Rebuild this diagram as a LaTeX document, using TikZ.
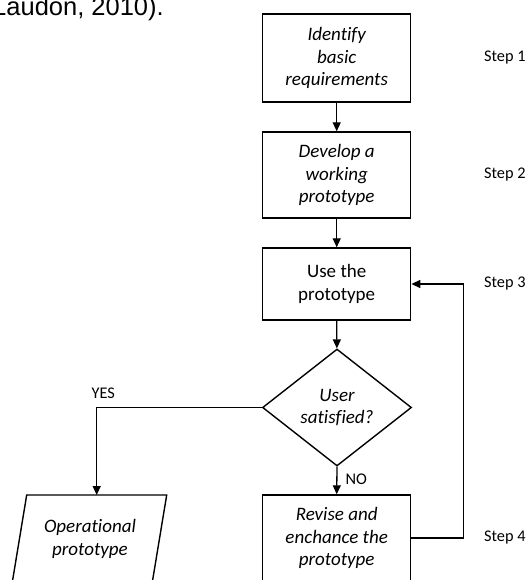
\documentclass[tikz,border=0pt]{standalone}
\usepackage{fontspec}
\setmainfont[Ligatures={NoCommon}]{Carlito}
\newfontfamily\arialfont{Liberation Sans}
\usetikzlibrary{shapes.geometric,arrows.meta}
\begin{document}
\begin{tikzpicture}[x=1pt,y=1pt,
  boxtext/.style={font=\fontsize{19}{22.5}\selectfont\itshape,align=center},
  box/.style={draw,line width=1.4pt,minimum width=148pt,inner sep=0pt,boxtext},
  decision/.style={diamond,draw,line width=1.4pt,minimum width=149pt,minimum height=117pt,inner sep=0pt,shape aspect=1.27,boxtext},
  lbl/.style={font=\fontsize{16.3}{18}\selectfont,inner sep=0pt},
  conn/.style={line width=1.3pt,-{Triangle[length=9pt,width=8pt]}},
  line/.style={line width=1.3pt}
]
\useasboundingbox (0,0) rectangle (529,-580);
\clip (0,0) rectangle (529,-580);

\node[anchor=base east,inner sep=0pt,font=\arialfont\fontsize{25.5}{28}\selectfont] (cite) at (164,-16) {Laudon, 2010).};

\node[box,minimum height=88pt] (b1) at (336.7,-58) {Identify\\basic\\requirements};
\node[box,minimum height=86pt] (b2) at (336.7,-175) {Develop a\\working\\prototype};
\node[box,minimum height=72pt,font=\fontsize{19}{22.5}\selectfont\upshape] (b3) at (336.7,-284) {Use the\\prototype};
\node[decision] (dia) at (337,-407.5) {User\\satisfied?};
\node[box,minimum height=86pt] (b4) at (336.7,-538) {Revise and\\enchance the\\prototype};

\draw[line width=1.4pt] (26.7,-495) -- (166.7,-495) -- (151.0,-590) -- (11.0,-590) -- cycle;
\coordinate (optop) at (96.7,-495);
\node[boxtext,inner sep=0pt] (op) at (90,-539) {Operational\\prototype};

\node[lbl,anchor=west] (s1) at (484,-58) {Step 1};
\node[lbl,anchor=west] (s2) at (484,-175) {Step 2};
\node[lbl,anchor=west] (s3) at (484,-284) {Step 3};
\node[lbl,anchor=west] (s4) at (484,-538) {Step 4};

\draw[conn] (b1) -- (b2);
\draw[conn] (b2) -- (b3);
\draw[conn] (b3) -- (dia);
\draw[conn] (dia.south) -- (b4.north) node[lbl,pos=0.45,right=8pt] (no) {NO};
\draw[conn] (dia.west) -| (optop) node[lbl,pos=0.48,above=8pt] (yes) {YES};
\draw[conn] (b4.east) -- ++(52,0) coordinate (fb) |- (b3.east);
\end{tikzpicture}
\end{document}
